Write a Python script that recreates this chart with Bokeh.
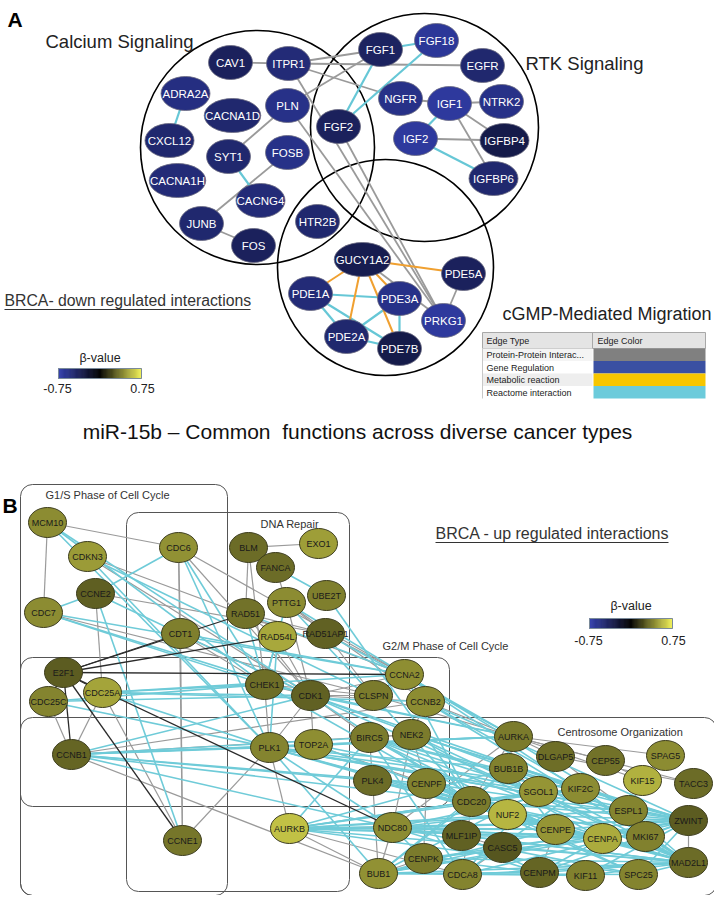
import numpy as np
from bokeh.plotting import figure
from bokeh.models import Range1d, ColumnDataSource
from bokeh.transform import linear_cmap
from bokeh.core.properties import value
from bokeh.embed import file_html
from bokeh.resources import INLINE

FONT = value("Liberation Sans")

# ---------------- Panel A data ----------------
a_names = ["CAV1", "ITPR1", "ADRA2A", "CACNA1D", "PLN", "CXCL12", "SYT1", "FOSB",
           "CACNA1H", "CACNG4", "JUNB", "FOS", "HTR2B", "FGF2", "FGF1", "FGF18",
           "EGFR", "NGFR", "IGF1", "NTRK2", "IGF2", "IGFBP4", "IGFBP6",
           "GUCY1A2", "PDE5A", "PDE1A", "PDE3A", "PRKG1", "PDE2A", "PDE7B"]
a_x = [230, 288, 185, 232, 287, 169, 228, 287, 177, 260, 201, 253, 317, 338, 380, 436,
       482, 400, 449, 501, 415, 504, 493, 362, 463, 310, 399, 443, 346, 399]
a_y = [62, 63, 93, 115, 105, 140, 156, 152, 180, 200, 223, 245, 221, 126, 49, 40,
       65, 98, 103, 101, 138, 140, 178, 259, 273, 293, 298, 320, 336, 348]
a_beta = [-0.40, -0.52, -0.56, -0.48, -0.59, -0.48, -0.48, -0.59, -0.52, -0.52, -0.48,
          -0.40, -0.48, -0.40, -0.42, -0.66, -0.48, -0.59, -0.68, -0.59, -0.68, -0.32,
          -0.48, -0.35, -0.40, -0.52, -0.59, -0.68, -0.48, -0.32]

a_ppi = [("CAV1", "ITPR1"), ("ITPR1", "EGFR"), ("ITPR1", "NGFR"), ("ITPR1", "FGF1"),
         ("PLN", "FGF1"), ("ITPR1", "PRKG1"), ("PLN", "PRKG1"), ("FGF2", "PRKG1"),
         ("PLN", "SYT1"), ("FOSB", "JUNB"), ("JUNB", "FOS"), ("IGF1", "NGFR"),
         ("IGF1", "NTRK2"), ("IGF1", "IGFBP4"), ("IGF1", "IGFBP6"), ("IGF2", "IGFBP4"),
         ("GUCY1A2", "PRKG1"), ("PDE5A", "PRKG1")]
a_reactome = [("ADRA2A", "CXCL12"), ("SYT1", "CACNG4"), ("FGF1", "FGF18"), ("FGF1", "FGF2"),
              ("FGF18", "FGF2"), ("IGF1", "IGF2"), ("IGF2", "IGFBP6"), ("PDE1A", "PDE3A"),
              ("PDE1A", "PDE2A"), ("PDE1A", "PDE7B"), ("PDE2A", "PDE3A"), ("PDE2A", "PDE7B"),
              ("PDE3A", "PDE7B")]
a_metabolic = [("GUCY1A2", "PDE1A"), ("GUCY1A2", "PDE5A"), ("GUCY1A2", "PDE2A"),
               ("GUCY1A2", "PDE3A"), ("GUCY1A2", "PDE7B")]

a_groups = ["Calcium Signaling", "RTK Signaling", "cGMP-Mediated Migration"]
a_group_cx = [257, 424, 385]
a_group_cy = [147, 127, 267]
a_group_r = [117, 114, 108]

edge_types = ["Protein-Protein Interac...", "Gene Regulation", "Metabolic reaction", "Reactome interaction"]
edge_colors = ["#808080", "#3a50a2", "#f7c600", "#6ccbdb"]

# ---------------- Panel B data ----------------
b_names = ["MCM10", "CDKN3", "CDC6", "BLM", "EXO1", "FANCA", "CCNE2", "UBE2T", "PTTG1", "CDC7",
           "RAD51", "CDT1", "RAD54L", "RAD51AP1", "E2F1", "CDC25C", "CDC25A", "CCNB1", "CHEK1",
           "CDK1", "CLSPN", "CCNA2", "CCNB2", "PLK1", "TOP2A", "BIRC5", "NEK2", "PLK4", "CENPF",
           "CCNE1", "AURKB", "AURKA", "DLGAP5", "CEP55", "SPAG5", "BUB1B", "KIF15", "TACC3",
           "SGOL1", "KIF2C", "CDC20", "NUF2", "ESPL1", "ZWINT", "NDC80", "CENPE", "MLF1IP",
           "CENPA", "MKI67", "CASC5", "CENPK", "MAD2L1", "BUB1", "CDCA8", "CENPM", "KIF11", "SPC25"]
b_x = [47, 87, 178, 248, 318, 275, 95, 326, 286, 43, 245, 180, 277, 325, 63, 48, 102, 71, 264,
       310, 373, 404, 425, 269, 313, 369, 411, 372, 426, 182, 289, 513, 555, 605, 665, 508, 642,
       693, 538, 580, 471, 507, 628, 688, 392, 555, 461, 602, 645, 502, 423, 688, 378, 462, 539,
       585, 638]
b_y = [522, 556, 547, 547, 543, 567, 593, 595, 602, 612, 613, 633, 636, 633, 672, 701, 692, 754,
       684, 695, 695, 674, 701, 747, 744, 737, 734, 780, 783, 840, 828, 736, 756, 760, 755, 768,
       780, 783, 791, 788, 801, 814, 810, 820, 827, 829, 835, 838, 836, 847, 858, 862, 873, 874,
       872, 875, 874]
b_beta = [0.44, 0.49, 0.46, 0.34, 0.50, 0.34, 0.30, 0.40, 0.44, 0.44, 0.36, 0.40, 0.53, 0.31,
          0.29, 0.42, 0.52, 0.32, 0.35, 0.31, 0.39, 0.45, 0.44, 0.42, 0.45, 0.39, 0.39, 0.34,
          0.41, 0.37, 0.61, 0.39, 0.35, 0.36, 0.44, 0.41, 0.56, 0.34, 0.47, 0.44, 0.39, 0.58,
          0.42, 0.29, 0.44, 0.47, 0.31, 0.54, 0.41, 0.27, 0.39, 0.34, 0.46, 0.42, 0.32, 0.41, 0.42]

b_ppi = [("MCM10", "CDC7"), ("MCM10", "CDC6"), ("BLM", "EXO1"), ("BLM", "RAD51"), ("BLM", "CHEK1"),
         ("FANCA", "PTTG1"), ("CDC6", "CDT1"), ("CDC6", "CCNA2"), ("CDC6", "CDK1"), ("CDKN3", "CDK1"),
         ("CDKN3", "CCNA2"), ("CCNE2", "RAD51AP1"), ("CCNE2", "CDC25A"), ("CDC7", "CLSPN"),
         ("CDT1", "CCNE1"), ("CDT1", "CHEK1"), ("CDT1", "CDK1"), ("RAD51", "RAD54L"),
         ("RAD51", "RAD51AP1"), ("RAD51", "CDK1"), ("PTTG1", "CDK1"), ("PTTG1", "RAD51AP1"),
         ("PTTG1", "CCNB2"), ("RAD54L", "CDK1"), ("RAD51AP1", "CCNA2"), ("RAD51AP1", "CLSPN"),
         ("CDC25C", "CCNB1"), ("CDC25A", "CCNB1"), ("CDC25A", "CCNE1"), ("CCNB1", "BUB1"),
         ("CCNB1", "CCNB2"), ("CCNB1", "NEK2"), ("CCNE1", "PLK1"), ("CHEK1", "CDK1"),
         ("CHEK1", "CLSPN"), ("CHEK1", "PLK1"), ("CDK1", "TOP2A"), ("CDK1", "CLSPN"),
         ("CDK1", "CCNA2"), ("CDK1", "CCNB2"), ("CDK1", "PLK1"), ("CDK1", "BIRC5"),
         ("CLSPN", "CCNA2"), ("CCNA2", "CCNB2"), ("CLSPN", "AURKA"), ("CCNB2", "AURKA"),
         ("CCNB2", "NEK2"), ("BIRC5", "PLK4"), ("BIRC5", "NEK2"), ("NEK2", "NDC80"),
         ("NEK2", "CENPF"), ("PLK4", "BUB1"), ("CENPF", "CENPK"), ("PLK1", "TOP2A"),
         ("TOP2A", "CENPF"), ("AURKA", "SPAG5"), ("AURKA", "TACC3"), ("AURKA", "CEP55"),
         ("AURKA", "DLGAP5"), ("AURKA", "KIF15"), ("AURKA", "BUB1B"), ("AURKA", "CDC20"),
         ("AURKA", "NDC80"), ("DLGAP5", "TACC3"), ("DLGAP5", "ESPL1"), ("CEP55", "KIF15"),
         ("KIF15", "ESPL1"), ("ZWINT", "MAD2L1"), ("AURKB", "BUB1"), ("AURKB", "NDC80"),
         ("AURKB", "CDCA8"), ("NDC80", "BUB1"), ("BUB1", "CENPK"), ("CDC20", "CDCA8"),
         ("BUB1B", "SGOL1"), ("MLF1IP", "CASC5"), ("CDCA8", "CASC5"), ("ESPL1", "MKI67"),
         ("CENPE", "CENPM"), ("PLK1", "AURKB"), ("CCNE1", "CDC6")]
b_reactome = [("MCM10", "CHEK1"), ("MCM10", "CDK1"), ("MCM10", "PLK1"), ("CDKN3", "PLK1"),
              ("CDKN3", "CLSPN"), ("CCNE2", "CDC6"), ("CDC7", "CCNE2"), ("CCNE2", "CCNE1"),
              ("CCNE2", "CDK1"), ("CDC7", "CDK1"), ("CDC7", "CHEK1"), ("CDC7", "CCNA2"),
              ("CDC6", "CHEK1"), ("CDC6", "PLK1"), ("CDT1", "CCNA2"), ("FANCA", "UBE2T"),
              ("RAD51", "CHEK1"), ("RAD51", "CCNA2"), ("PTTG1", "CHEK1"), ("PTTG1", "CDC20"),
              ("PTTG1", "ESPL1"), ("RAD54L", "CHEK1"), ("RAD54L", "PLK1"), ("UBE2T", "CDC20"),
              ("RAD51AP1", "AURKA"), ("CDC25C", "CDK1"), ("CDC25C", "CHEK1"), ("CDC25C", "PLK1"),
              ("CDC25A", "CHEK1"), ("CDC25A", "CDK1"), ("CDC25A", "PLK1"), ("CDC25A", "CCNA2"),
              ("CDC25A", "CCNB2"), ("CCNB1", "PLK1"), ("CCNB1", "CDK1"), ("CCNB1", "TOP2A"),
              ("CCNB1", "BIRC5"), ("CCNB1", "AURKA"), ("CCNB1", "NDC80"), ("CCNB1", "CDC20"),
              ("CCNB1", "PLK4"), ("CCNB1", "CENPF"), ("CHEK1", "CDC20"), ("CHEK1", "AURKA"),
              ("CDK1", "CDC20"), ("CDK1", "AURKA"), ("CDK1", "BUB1B"), ("CDK1", "KIF2C"),
              ("CDK1", "MAD2L1"), ("PLK1", "CDC20"), ("PLK1", "BUB1B"), ("PLK1", "AURKA"),
              ("PLK1", "NDC80"), ("PLK1", "CENPE"), ("PLK1", "KIF2C"), ("PLK1", "SGOL1"),
              ("PLK1", "ESPL1"), ("PLK1", "MAD2L1"), ("PLK1", "ZWINT"), ("PLK1", "BUB1"),
              ("TOP2A", "AURKA"), ("TOP2A", "CDC20"), ("TOP2A", "ZWINT"), ("CCNA2", "AURKA"),
              ("CCNA2", "CDC20"), ("CCNA2", "MAD2L1"), ("CCNB2", "KIF2C"), ("CCNB2", "ZWINT"),
              ("CCNB2", "MAD2L1"), ("BIRC5", "CDCA8"), ("BIRC5", "SGOL1"), ("BIRC5", "KIF2C"),
              ("BIRC5", "ZWINT"), ("BIRC5", "MAD2L1"), ("BIRC5", "AURKB"), ("BIRC5", "NUF2"),
              ("BIRC5", "CENPE"), ("NEK2", "ZWINT"), ("NEK2", "MAD2L1"), ("NEK2", "CENPA"),
              ("NEK2", "KIF2C"), ("PLK4", "CENPE"), ("PLK4", "MKI67"), ("PLK4", "CENPA"),
              ("CENPF", "MAD2L1"), ("CENPF", "ZWINT"), ("CENPF", "CENPE"), ("CENPF", "SPC25"),
              ("CENPF", "NUF2"), ("AURKB", "CDC20"), ("AURKB", "NUF2"), ("AURKB", "CENPE"),
              ("AURKB", "CENPA"), ("AURKB", "MAD2L1"), ("AURKB", "ZWINT"), ("AURKB", "SPC25"),
              ("AURKB", "KIF2C"), ("AURKB", "SGOL1"), ("AURKB", "BUB1B"), ("AURKB", "ESPL1"),
              ("AURKB", "MKI67"), ("NDC80", "NUF2"), ("NDC80", "SPC25"), ("NDC80", "ZWINT"),
              ("NDC80", "CENPE"), ("NDC80", "CENPA"), ("NDC80", "CENPM"), ("NDC80", "MAD2L1"),
              ("NDC80", "KIF2C"), ("NDC80", "CENPK"), ("BUB1", "CDC20"), ("BUB1", "BUB1B"),
              ("BUB1", "SPC25"), ("BUB1", "CENPM"), ("BUB1", "KIF11"), ("BUB1", "MAD2L1"),
              ("BUB1", "ZWINT"), ("BUB1", "CASC5"), ("BUB1", "CENPE"), ("BUB1", "SGOL1"),
              ("BUB1", "CENPA"), ("CDC20", "MAD2L1"), ("CDC20", "ESPL1"), ("CDC20", "BUB1B"),
              ("CDC20", "ZWINT"), ("CDC20", "KIF2C"), ("CDC20", "CENPE"), ("NUF2", "SPC25"),
              ("NUF2", "ZWINT"), ("NUF2", "CENPE"), ("NUF2", "MAD2L1"), ("NUF2", "CENPA"),
              ("CENPA", "CENPM"), ("CENPA", "CENPK"), ("CENPE", "MAD2L1"), ("CENPE", "ZWINT"),
              ("CENPE", "CENPA"), ("CASC5", "ZWINT"), ("CASC5", "MAD2L1"), ("MLF1IP", "CENPA"),
              ("MLF1IP", "CENPM"), ("MLF1IP", "MAD2L1"), ("CENPK", "CENPM"), ("CENPK", "MAD2L1"),
              ("CENPK", "ZWINT"), ("CDCA8", "SGOL1"), ("CDCA8", "KIF2C"), ("CDCA8", "MAD2L1"),
              ("CDCA8", "ZWINT"), ("KIF11", "ZWINT"), ("SPC25", "ZWINT"), ("SPC25", "MAD2L1"),
              ("KIF2C", "ZWINT"), ("SGOL1", "MAD2L1"), ("ESPL1", "MAD2L1"), ("BUB1B", "MAD2L1"),
              ("BUB1B", "ZWINT"), ("BUB1B", "CENPE"), ("KIF2C", "MAD2L1"), ("CENPM", "MAD2L1"),
              ("KIF11", "MAD2L1"), ("CENPM", "ZWINT"), ("MKI67", "ZWINT")]
b_regulation = [("E2F1", "CDT1"), ("E2F1", "RAD51"), ("E2F1", "RAD54L"), ("E2F1", "CCNA2"),
                ("E2F1", "CDC25A"), ("E2F1", "CDC25C"), ("E2F1", "CCNB1"), ("E2F1", "CCNE1"),
                ("E2F1", "NDC80")]

b_groups = ["G1/S Phase of Cell Cycle", "DNA Repair", "G2/M Phase of Cell Cycle", "Centrosome Organization"]
b_box_left = [20, 126, 20, 20]
b_box_right = [227, 349, 449, 716]
b_box_top = [484, 512, 657, 717]
b_box_bottom = [895, 891, 806, 895]
b_label_x = [45, 260, 382, 557]
b_label_y = [494, 523, 645, 731]

cb_ticks = ["-0.75", "0.75"]

# ---------------- colour scale ----------------
stops = [(-0.75, (50, 62, 172)), (0.0, (0, 0, 0)), (0.75, (236, 236, 84))]
palette = []
for v in np.linspace(-0.75, 0.75, 256):
    for (v0, c0), (v1, c1) in zip(stops[:-1], stops[1:]):
        if v0 <= v <= v1:
            t = (v - v0) / (v1 - v0)
            rgb = [int(round(c0[k] + t * (c1[k] - c0[k]))) for k in range(3)]
            palette.append("#%02x%02x%02x" % tuple(rgb))
            break
cmap = linear_cmap("beta", palette, -0.75, 0.75)

# ---------------- figure ----------------
W, H = 714, 895
p = figure(width=W, height=H, x_range=Range1d(0, W), y_range=Range1d(H, 0),
           output_backend="svg", toolbar_location=None, min_border=0)
p.axis.visible = False
p.grid.visible = False
p.outline_line_color = None
p.background_fill_color = "white"


def seg_source(edges, names, xs, ys):
    pos = {n: (x, y) for n, x, y in zip(names, xs, ys)}
    return ColumnDataSource(dict(
        x0=[pos[a][0] for a, b in edges], y0=[pos[a][1] for a, b in edges],
        x1=[pos[b][0] for a, b in edges], y1=[pos[b][1] for a, b in edges]))


# ---- Panel A ----
p.text(x=[7], y=[19], text=["A"], text_font=FONT, text_font_size="21px",
       text_font_style="bold", text_color="black", text_baseline="alphabetic")

p.circle(x=a_group_cx, y=a_group_cy, radius=a_group_r, fill_color=None,
         line_color="black", line_width=1.6)

p.segment("x0", "y0", "x1", "y1", source=seg_source(a_ppi, a_names, a_x, a_y),
          line_color="#9a9a9a", line_width=1.8)
p.segment("x0", "y0", "x1", "y1", source=seg_source(a_reactome, a_names, a_x, a_y),
          line_color="#66c7d6", line_width=2.2)
p.segment("x0", "y0", "x1", "y1", source=seg_source(a_metabolic, a_names, a_x, a_y),
          line_color="#f0a030", line_width=2.0)

a_src = ColumnDataSource(dict(x=a_x, y=a_y, name=a_names, beta=a_beta,
                              w=[max(44, 7.5 * len(n) + 4) for n in a_names]))
p.ellipse(x="x", y="y", width="w", height=34, source=a_src, fill_color=cmap,
          line_color="#6a6a80", line_width=0.8)
p.text(x="x", y="y", text="name", source=a_src, text_font=FONT, text_font_size="11.5px",
       text_color="white", text_align="center", text_baseline="middle")

p.text(x=[45], y=[41], text=[a_groups[0]], text_font=FONT, text_font_size="18.5px",
       text_color="#222222", text_baseline="middle")
p.text(x=[525], y=[63], text=[a_groups[1]], text_font=FONT, text_font_size="18.5px",
       text_color="#222222", text_baseline="middle")
p.text(x=[502], y=[313], text=[a_groups[2]], text_font=FONT, text_font_size="18px",
       text_color="#222222", text_baseline="middle")

p.text(x=[4], y=[300], text=["BRCA- down regulated interactions"], text_font=FONT,
       text_font_size="15.8px", text_color="#333333", text_baseline="middle")
p.segment(x0=[4], y0=[309], x1=[250], y1=[309], line_color="#333333", line_width=1)


def colorbar(x0, x1, y0, y1, title_y, tick_y):
    vals = np.linspace(-0.75, 0.75, 90)
    edges = np.linspace(x0, x1, 91)
    src = ColumnDataSource(dict(v=vals, l=edges[:-1], r=edges[1:],
                                t=[y0] * 90, b=[y1] * 90))
    cm = linear_cmap("v", palette, -0.75, 0.75)
    p.quad(left="l", right="r", top="t", bottom="b", source=src,
           fill_color=cm, line_color=cm, line_width=0.6)
    p.quad(left=[x0], right=[x1], top=[y0], bottom=[y1], fill_color=None,
           line_color="#7a8a99", line_width=1)
    p.text(x=[(x0 + x1) / 2], y=[title_y], text=["β-value"], text_font=FONT,
           text_font_size="12.5px", text_color="#222222", text_align="center",
           text_baseline="middle")
    p.text(x=[x0 - 1, x1 + 1], y=[tick_y, tick_y], text=cb_ticks, text_font=FONT,
           text_font_size="12.5px", text_color="#222222", text_align="center",
           text_baseline="middle")


colorbar(58, 141, 368, 378, 357, 388)

# edge legend table
tx0, tx1, tdiv = 482, 705, 592
p.quad(left=[tx0], right=[tx1], top=[332], bottom=[348], fill_color="#e4e4e4",
       line_color="#a8a8a8", line_width=1)
p.segment(x0=[tdiv], y0=[332], x1=[tdiv], y1=[348], line_color="#a8a8a8")
p.text(x=[tx0 + 4, tdiv + 5], y=[340, 340], text=["Edge Type", "Edge Color"], text_font=FONT,
       text_font_size="9px", text_color="#222222", text_baseline="middle")
row_top = [348 + 12.5 * i for i in range(4)]
p.quad(left=[tx0] * 4, right=[tdiv] * 4, top=row_top, bottom=[t + 12.5 for t in row_top],
       fill_color=["#f4f4f4", "white", "#eeeeee", "white"], line_color=None)
p.quad(left=[tdiv + 1] * 4, right=[tx1] * 4, top=row_top, bottom=[t + 12.5 for t in row_top],
       fill_color=edge_colors, line_color=None)
p.segment(x0=[tx0], y0=[348], x1=[tx0], y1=[398], line_color="#c8c8c8")
p.text(x=[tx0 + 4] * 4, y=[t + 6.5 for t in row_top], text=edge_types, text_font=FONT,
       text_font_size="9px", text_color="#222222", text_baseline="middle")

p.text(x=[357], y=[431], text=["miR-15b \u2013 Common\u00a0 functions across diverse cancer types"],
       text_font=FONT, text_font_size="21px", text_color="#111111", text_align="center",
       text_baseline="middle")

# ---- Panel B ----
p.text(x=[2], y=[505], text=["B"], text_font=FONT, text_font_size="21px",
       text_font_style="bold", text_color="black", text_baseline="alphabetic")

p.quad(left=b_box_left, right=b_box_right, top=b_box_top, bottom=b_box_bottom,
       fill_color=None, line_color="#555555", line_width=1, border_radius=12)
p.text(x=b_label_x, y=b_label_y, text=b_groups, text_font=FONT, text_font_size="11px",
       text_color="#333333", text_baseline="middle")

p.segment("x0", "y0", "x1", "y1", source=seg_source(b_ppi, b_names, b_x, b_y),
          line_color="#9a9a9a", line_width=1.2)
p.segment("x0", "y0", "x1", "y1", source=seg_source(b_reactome, b_names, b_x, b_y),
          line_color="#6fcbd8", line_width=1.6)
p.segment("x0", "y0", "x1", "y1", source=seg_source(b_regulation, b_names, b_x, b_y),
          line_color="#2a2a2a", line_width=1.3)

b_src = ColumnDataSource(dict(x=b_x, y=b_y, name=b_names, beta=b_beta))
p.ellipse(x="x", y="y", width=38, height=30, source=b_src, fill_color=cmap,
          line_color="#3c3c1c", line_width=1)
p.text(x="x", y="y", text="name", source=b_src, text_font=FONT, text_font_size="9px",
       text_color="#1a1a1a", text_align="center", text_baseline="middle")

p.text(x=[435], y=[533], text=["BRCA - up regulated interactions"], text_font=FONT,
       text_font_size="16px", text_color="#333333", text_baseline="middle")
p.segment(x0=[435], y0=[542], x1=[668], y1=[542], line_color="#333333", line_width=1)

colorbar(589, 672, 618, 628, 605, 640)

open("out.html", "w").write(file_html(p, INLINE))
